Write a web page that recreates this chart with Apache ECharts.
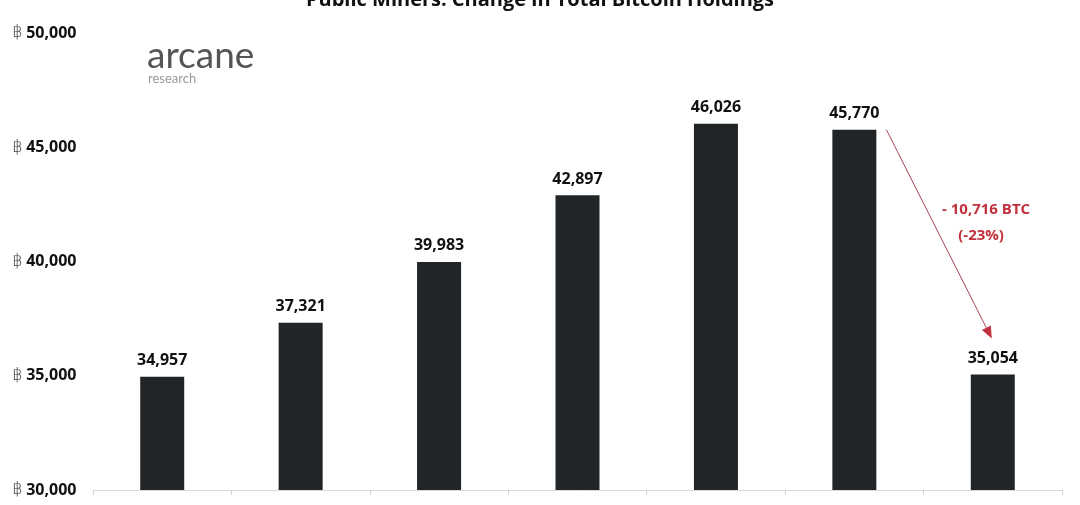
<!DOCTYPE html>
<html>
<head>
<meta charset="utf-8">
<script src="https://cdn.jsdelivr.net/npm/echarts@6/dist/echarts.min.js"></script>
<style>
  html, body { margin: 0; padding: 0; background: #ffffff; }
  #chart { width: 1080px; height: 505px; }
</style>
</head>
<body>
<div id="chart"></div>
<script>
// Total BTC held by public miners per period
const categories = ['P1', 'P2', 'P3', 'P4', 'P5', 'P6', 'P7'];
const holdings = [34957, 37321, 39983, 42897, 46026, 45770, 35054];
const yTicks = { min: 30000, max: 50000, interval: 5000 };

const FONT = '"Open Sans", "Noto Sans", "DejaVu Sans", sans-serif';
const BAR = '#222527';
const RED = '#c0303d';

const fmt = v => v.toLocaleString('en-US');

const chart = echarts.init(document.getElementById('chart'));

chart.setOption({
  backgroundColor: '#ffffff',
  animation: false,
  title: {
    text: 'Public Miners: Change in Total Bitcoin Holdings',
    left: 'center',
    top: -15,
    textStyle: { fontFamily: FONT, fontSize: 20, fontWeight: 'bold', color: '#111111' }
  },
  grid: { left: 93, right: 18, top: 33, bottom: 15 },
  xAxis: {
    type: 'category',
    data: categories,
    axisLine: { lineStyle: { color: '#d9d9d9', width: 1 } },
    axisTick: { show: true, length: 5, lineStyle: { color: '#d0d0d0' } },
    axisLabel: { show: false },
    splitLine: { show: false }
  },
  yAxis: {
    type: 'value',
    min: yTicks.min,
    max: yTicks.max,
    interval: yTicks.interval,
    axisLine: { show: false },
    axisTick: { show: false },
    splitLine: { show: false },
    axisLabel: {
      align: 'left',
      margin: 81,
      formatter: v => '{s|฿} {n|' + fmt(v) + '}',
      rich: {
        s: { fontFamily: '"DejaVu Sans", sans-serif', fontSize: 17, fontWeight: 200, color: '#444444' },
        n: { fontFamily: FONT, fontSize: 16, fontWeight: 'bold', color: '#111111' }
      }
    }
  },
  series: [{
    type: 'bar',
    data: holdings,
    barWidth: 44,
    itemStyle: { color: BAR },
    label: {
      show: true,
      position: 'top',
      distance: 8,
      formatter: p => fmt(p.value),
      fontFamily: FONT,
      fontSize: 16,
      fontWeight: 'bold',
      color: '#111111'
    }
  }]
});

// Annotation: drop between the last two periods
function drawDrop() {
  const n = holdings.length;
  const from = holdings[n - 2];
  const to = holdings[n - 1];
  const diff = from - to;
  const pct = Math.round(diff / from * 100);

  const p0 = chart.convertToPixel({ gridIndex: 0 }, [n - 2, from]);
  const p1 = chart.convertToPixel({ gridIndex: 0 }, [n - 1, to]);
  const x0 = p0[0] + 32, y0 = p0[1];
  const x1 = p1[0] - 1, y1 = p1[1] - 36;

  const ang = Math.atan2(y1 - y0, x1 - x0);
  const hl = 12, hw = 5;
  const bx = x1 - hl * Math.cos(ang), by = y1 - hl * Math.sin(ang);
  const nx = -Math.sin(ang) * hw, ny = Math.cos(ang) * hw;

  const midX = (x0 + x1) / 2;
  const midY = (y0 + y1) / 2;

  chart.setOption({
    graphic: [
      {
        type: 'line',
        shape: { x1: x0, y1: y0, x2: bx, y2: by },
        style: { stroke: '#a8474f', lineWidth: 1 },
        z: 10
      },
      {
        type: 'polygon',
        shape: { points: [[x1, y1], [bx + nx, by + ny], [bx - nx, by - ny]] },
        style: { fill: RED },
        z: 10
      },
      {
        type: 'text',
        x: midX + 47, y: midY - 24,
        style: {
          text: '- ' + fmt(diff) + ' BTC', fill: RED,
          font: 'bold 15px ' + FONT, textAlign: 'center', textVerticalAlign: 'middle'
        },
        z: 11
      },
      {
        type: 'text',
        x: midX + 42, y: midY + 2,
        style: {
          text: '(-' + pct + '%)', fill: RED,
          font: 'bold 15px ' + FONT, textAlign: 'center', textVerticalAlign: 'middle'
        },
        z: 11
      },
      {
        type: 'text',
        left: 147, top: 38,
        style: { text: 'arcane', fill: '#555555', font: '400 37px Lato, "Noto Sans", sans-serif' }
      },
      {
        type: 'text',
        left: 148, top: 72,
        style: { text: 'research', fill: '#999999', font: '400 13px Lato, "Noto Sans", sans-serif' }
      }
    ]
  });
}
drawDrop();
</script>
</body>
</html>
